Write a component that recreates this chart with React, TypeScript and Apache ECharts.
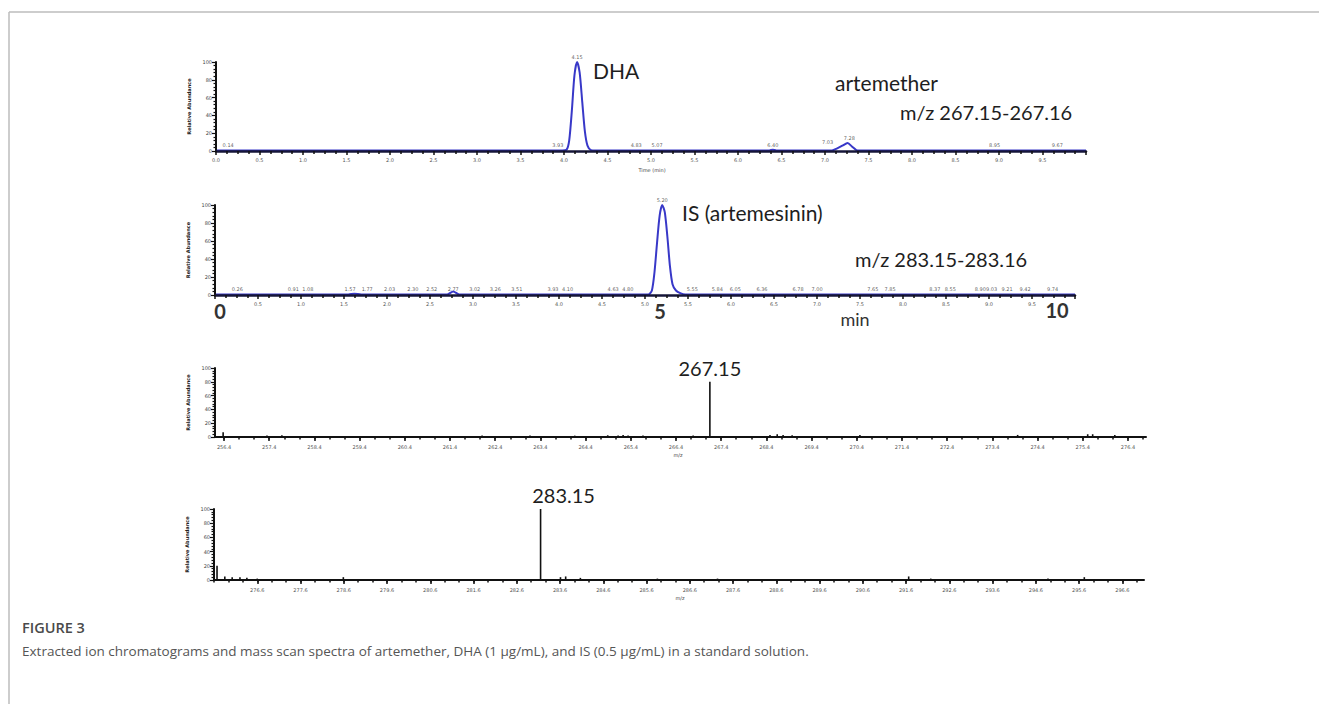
import React, { useEffect, useRef } from "react";
import * as echarts from "echarts";

// ---- Panel 1: XIC m/z 267.15-267.16 (DHA, artemether) : [time(min), rel. abundance]
const CH1_POINTS: number[][] = [
  [0, 0.6], [3.98, 0.6], [4.03, 1.5], [4.06, 12], [4.09, 45], [4.12, 85], [4.15, 100], [4.18, 88],
  [4.21, 55], [4.24, 22], [4.27, 6], [4.31, 1], [4.36, 0.6],
  [6.36, 0.6], [6.40, 1.5], [6.44, 0.6],
  [7.08, 0.6], [7.14, 3], [7.20, 6], [7.26, 9], [7.31, 5], [7.36, 1], [7.40, 0.6], [10, 0.6],
];
const CH1_LABELS: number[][] = [
  [0.14, 1], [3.93, 1], [4.15, 100], [4.83, 1], [5.07, 1], [6.40, 1.5], [7.03, 4], [7.28, 9], [8.95, 1], [9.67, 1],
];

// ---- Panel 2: XIC m/z 283.15-283.16 (IS)
const CH2_POINTS: number[][] = [
  [0, 0.6], [1.55, 0.6], [1.62, 1.5], [1.70, 0.6], [2.70, 0.6], [2.77, 4], [2.84, 0.6],
  [5.04, 0.6], [5.08, 5], [5.11, 25], [5.14, 58], [5.17, 88], [5.20, 100], [5.23, 92], [5.26, 65],
  [5.29, 32], [5.32, 12], [5.36, 5], [5.41, 2], [5.47, 0.6], [10, 0.6],
];
const CH2_LABELS: number[] = [
  0.26, 0.91, 1.08, 1.57, 1.77, 2.03, 2.30, 2.52, 2.77, 3.02, 3.26, 3.51, 3.93, 4.10, 4.63, 4.80,
  5.55, 5.84, 6.05, 6.36, 6.78, 7.00, 7.65, 7.85, 8.37, 8.55, 8.90, 9.03, 9.21, 9.42, 9.74,
];
const CH2_PEAK = [5.20, 100];

// ---- Panel 3: mass spectrum around 267.15 : [m/z, rel. abundance]
const MS1_PEAKS: number[][] = [
  [256.38, 7], [257.35, 2], [257.68, 2.5], [258.94, 1.5], [262.11, 2], [263.17, 2], [264.16, 2],
  [264.89, 2.5], [265.12, 2], [265.23, 3], [265.34, 2], [265.67, 2], [266.78, 2], [267.15, 80],
  [268.48, 3], [268.64, 4], [268.77, 3], [268.97, 2.5], [270.47, 3], [273.96, 3], [275.51, 4],
  [275.62, 4], [276.11, 3],
];
const MS1_TICKS: number[] = [
  256.4, 257.4, 258.4, 259.4, 260.4, 261.4, 262.4, 263.4, 264.4, 265.4, 266.4, 267.4, 268.4,
  269.4, 270.4, 271.4, 272.4, 273.4, 274.4, 275.4, 276.4,
];

// ---- Panel 4: mass spectrum around 283.15
const MS2_PEAKS: number[][] = [
  [275.67, 20], [275.85, 5], [276.02, 4], [276.2, 4], [276.36, 3], [276.6, 2], [278.59, 4],
  [283.15, 100], [283.61, 4], [283.73, 5], [284.07, 3], [285.85, 2], [287.24, 2], [291.66, 5],
  [292.17, 2], [294.88, 2], [295.72, 4],
];
const MS2_TICKS: number[] = [
  276.6, 277.6, 278.6, 279.6, 280.6, 281.6, 282.6, 283.6, 284.6, 285.6, 286.6, 287.6, 288.6,
  289.6, 290.6, 291.6, 292.6, 293.6, 294.6, 295.6, 296.6,
];

const Y_TICK_INTERVAL = 20;

const TINY = "DejaVu Sans";
const BIG = "Lato, 'Open Sans', sans-serif";
const AX = "#111";

function subTicks(major: number[], parts: number, lo: number, hi: number): number[] {
  const step = major[1] - major[0];
  const out: number[] = [];
  for (let v = major[0] - step; v <= hi + 1e-9; v += step / parts) {
    if (v >= lo - 1e-9) out.push(Math.round(v * 1000) / 1000);
  }
  return out;
}

function yAxis(gridIndex: number) {
  return {
    type: "value",
    gridIndex,
    min: 0,
    max: 100,
    interval: Y_TICK_INTERVAL,
    z: 5,
    axisLine: { show: true, lineStyle: { color: AX, width: 2 } },
    axisTick: { show: true, length: 4, lineStyle: { color: AX, width: 1.2 } },
    minorTick: { show: true, splitNumber: 5, length: 2.5, lineStyle: { color: AX, width: 1.2 } },
    axisLabel: { fontSize: 5, color: "#444", margin: 4, fontFamily: TINY },
    splitLine: { show: false },
    name: "Relative Abundance",
    nameLocation: "middle",
    nameGap: 20,
    nameRotate: 90,
    nameTextStyle: { fontSize: 5, fontWeight: "bold", color: "#222", fontFamily: TINY },
  };
}

function rtAxis(gridIndex: number, showMin: boolean) {
  return {
    type: "value",
    gridIndex,
    min: 0,
    max: 10,
    interval: 0.5,
    z: 5,
    axisLine: { show: true, onZero: false, lineStyle: { color: "#16163a", width: 2.5 } },
    axisTick: { show: true, length: 4, lineStyle: { color: AX, width: 1.5 } },
    minorTick: { show: true, splitNumber: 4, length: 3, lineStyle: { color: AX, width: 1.5 } },
    axisLabel: {
      fontSize: 5, color: "#555", margin: 6, fontFamily: TINY,
      showMinLabel: showMin, showMaxLabel: false,
      formatter: (v: number) => v.toFixed(1),
    },
    splitLine: { show: false },
  };
}

function mzAxis(gridIndex: number, min: number, max: number, ticks: number[]) {
  return {
    type: "value",
    gridIndex,
    min,
    max,
    z: 5,
    axisLine: { show: true, onZero: false, lineStyle: { color: AX, width: 2 } },
    axisTick: { show: true, length: 4, customValues: ticks, lineStyle: { color: AX, width: 1.5 } },
    axisLabel: {
      fontSize: 5, color: "#555", margin: 7, fontFamily: TINY, customValues: ticks,
      formatter: (v: number) => v.toFixed(1),
    },
    splitLine: { show: false },
  };
}

function mzMinorAxis(gridIndex: number, min: number, max: number, ticks: number[]) {
  return {
    type: "value",
    gridIndex,
    min,
    max,
    position: "bottom",
    axisLine: { show: false, onZero: false },
    axisTick: {
      show: true, length: 2.5, customValues: subTicks(ticks, 3, min, max),
      lineStyle: { color: AX, width: 1.5 },
    },
    axisLabel: { show: false },
    splitLine: { show: false },
  };
}

function tinyLabels(data: number[][], xi: number, yi: number) {
  return {
    type: "scatter",
    xAxisIndex: xi,
    yAxisIndex: yi,
    data,
    symbol: "circle",
    symbolSize: 1,
    itemStyle: { color: "rgba(0,0,0,0)" },
    silent: true,
    label: {
      show: true,
      position: "top",
      distance: 2,
      fontSize: 5,
      color: "#333",
      fontFamily: TINY,
      formatter: (p: any) => p.value[0].toFixed(2),
    },
    z: 6,
  };
}

function bigText(text: string, x: number, y: number, size = 20, align = "left", weight = "normal", color = "#1e1e1e") {
  return {
    type: "text",
    x,
    y,
    style: {
      text,
      fill: color,
      fontSize: size,
      fontFamily: BIG,
      fontWeight: weight,
      textAlign: align,
      textVerticalAlign: "middle",
    },
  };
}

function smallText(text: string, x: number, y: number) {
  return {
    type: "text",
    x,
    y,
    style: { text, fill: "#444", fontSize: 5, fontFamily: TINY, textAlign: "center", textVerticalAlign: "middle" },
  };
}

export default function App() {
  const ref = useRef<HTMLDivElement>(null);

  useEffect(() => {
    if (!ref.current) return;
    const chart = echarts.init(ref.current, undefined, { renderer: "svg" });

    const ms1Min = 256.2, ms1Max = 276.8;
    const ms2Min = 275.6, ms2Max = 297.1;

    const option: any = {
      animation: false,
      backgroundColor: "#ffffff",
      grid: [
        { left: 216, top: 62, width: 870, height: 89 },
        { left: 215, top: 205, width: 860, height: 90 },
        { left: 215, top: 368, width: 931, height: 69 },
        { left: 214, top: 509, width: 930, height: 71 },
      ],
      xAxis: [
        rtAxis(0, true),
        rtAxis(1, false),
        mzAxis(2, ms1Min, ms1Max, MS1_TICKS),
        mzMinorAxis(2, ms1Min, ms1Max, MS1_TICKS),
        mzAxis(3, ms2Min, ms2Max, MS2_TICKS),
        mzMinorAxis(3, ms2Min, ms2Max, MS2_TICKS),
      ],
      yAxis: [yAxis(0), yAxis(1), yAxis(2), yAxis(3)],
      series: [
        {
          type: "line",
          xAxisIndex: 0,
          yAxisIndex: 0,
          data: CH1_POINTS,
          showSymbol: false,
          smooth: 0.25,
          lineStyle: { color: "#3838c8", width: 2 },
          z: 1,
        },
        tinyLabels(CH1_LABELS, 0, 0),
        {
          type: "line",
          xAxisIndex: 1,
          yAxisIndex: 1,
          data: CH2_POINTS,
          showSymbol: false,
          smooth: 0.25,
          lineStyle: { color: "#3838c8", width: 2 },
          z: 1,
        },
        tinyLabels([...CH2_LABELS.map((t) => [t, 1]), CH2_PEAK], 1, 1),
        {
          type: "bar",
          xAxisIndex: 2,
          yAxisIndex: 2,
          barWidth: 1.6,
          itemStyle: { color: "#111" },
          data: MS1_PEAKS.map((d) =>
            d[1] > 50
              ? {
                  value: d,
                  label: {
                    show: true, position: "top", distance: 4, formatter: d[0].toFixed(2),
                    fontSize: 20, fontFamily: BIG, color: "#1e1e1e",
                  },
                }
              : { value: d }
          ),
          z: 3,
        },
        {
          type: "bar",
          xAxisIndex: 4,
          yAxisIndex: 3,
          barWidth: 1.6,
          itemStyle: { color: "#111" },
          data: MS2_PEAKS.map((d) =>
            d[1] > 50
              ? {
                  value: d,
                  label: {
                    show: true, position: "top", distance: 4, offset: [23, 0], formatter: d[0].toFixed(2),
                    fontSize: 20, fontFamily: BIG, color: "#1e1e1e",
                  },
                }
              : { value: d }
          ),
          z: 3,
        },
      ],
      graphic: [
        { type: "line", shape: { x1: 9, y1: 12, x2: 1319, y2: 12 }, style: { stroke: "#bdbdbd", lineWidth: 1.5 } },
        { type: "line", shape: { x1: 9, y1: 12, x2: 9, y2: 704 }, style: { stroke: "#bdbdbd", lineWidth: 1.5 } },
        bigText("DHA", 593, 70, 21),
        bigText("artemether", 835, 82, 21),
        bigText("m/z 267.15-267.16", 900, 112, 20),
        bigText("IS (artemesinin)", 682, 212, 21),
        bigText("m/z 283.15-283.16", 855, 259, 20),
        bigText("0", 220, 311, 20, "center", "bold", "#333"),
        bigText("5", 660, 311, 20, "center", "bold", "#333"),
        bigText("10", 1057, 310, 20, "center", "bold", "#333"),
        bigText("min", 855, 319, 18, "center", "normal", "#333"),
        smallText("Time (min)", 652, 170),
        smallText("m/z", 678, 455),
        smallText("m/z", 680, 598),
        {
          type: "text",
          x: 22,
          y: 627,
          style: {
            text: "FIGURE 3", fill: "#4a4a4a", fontSize: 14.5, fontWeight: 600,
            fontFamily: "'Open Sans', sans-serif", textVerticalAlign: "middle",
          },
        },
        {
          type: "text",
          x: 22,
          y: 651,
          style: {
            text: "Extracted ion chromatograms and mass scan spectra of artemether, DHA (1 µg/mL), and IS (0.5 µg/mL) in a standard solution.",
            fill: "#555", fontSize: 13.5, fontFamily: "'Open Sans', sans-serif", textVerticalAlign: "middle",
          },
        },
      ],
    };

    chart.setOption(option);
    return () => chart.dispose();
  }, []);

  return (
    <div
      ref={ref}
      style={{ position: "absolute", left: 0, top: 0, width: 1319, height: 704, background: "#fff" }}
    />
  );
}
